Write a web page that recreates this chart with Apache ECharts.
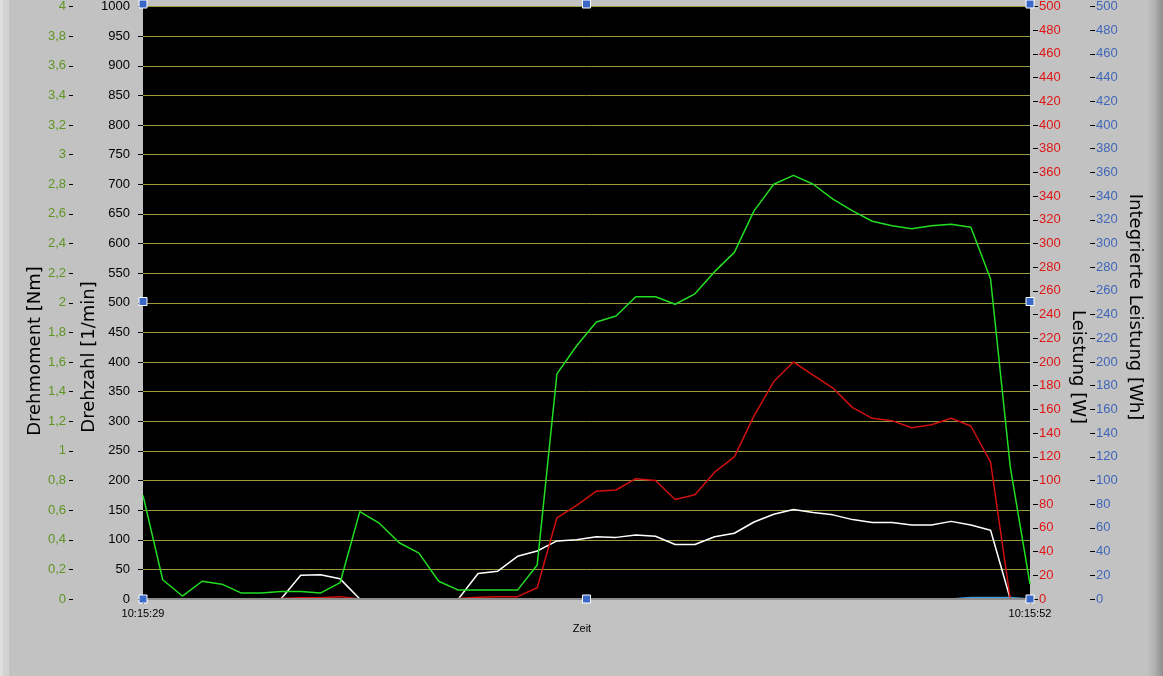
<!DOCTYPE html>
<html>
<head>
<meta charset="utf-8">
<script src="https://cdn.jsdelivr.net/npm/echarts@6/dist/echarts.min.js"></script>
<style>
html,body{margin:0;padding:0;background:#c2c2c2;}
#chart{width:1163px;height:676px;}
</style>
</head>
<body>
<div id="chart"></div>
<script>
// ---- data (46 samples, 10:15:29 .. 10:15:52) ----
const xTickLabels = ['10:15:29', '10:15:52'];
// Drehmoment [Nm] (green)
const drehmoment = [0.70,0.13,0.02,0.12,0.10,0.04,0.04,0.05,0.05,0.04,0.11,0.59,0.51,0.38,0.31,0.12,0.06,0.06,0.06,0.06,0.23,1.52,1.71,1.87,1.91,2.04,2.04,1.99,2.06,2.21,2.34,2.62,2.80,2.86,2.80,2.70,2.62,2.55,2.52,2.50,2.52,2.53,2.51,2.16,0.89,0.10];
// Drehzahl [1/min] (white)
const drehzahl = [0,0,0,0,0,0,0,0,40,41,34,0,0,0,0,0,0,43,47,72,81,98,100,105,104,108,106,92,92,105,111,130,143,151,146,142,134,129,129,125,125,131,125,116,0,0];
// Leistung [W] (red)
const leistung = [0,0,0,0,0,0,0,0.5,1,1,2,0,0,0,0,0,0.5,1.5,2,2,9.5,68.5,79,91,92,101.5,100,84,88,107,120,154.5,183.5,200,189,178,161.5,152.5,150.5,144.5,147,152.5,146,115.5,0,0];
// Integrierte Leistung [Wh] (blue)
const integriert = [0,0,0,0,0,0,0,0,0,0,0,0,0,0,0,0,0,0,0,0,0,0,0,0,0,0,0,0,0,0,0,0,0,0,0,0,0,0,0,0,0,0,1.2,1.3,1.3,0];

const lastIdx = drehmoment.length - 1;
const pairs = arr => arr.map((v, i) => [i, v]);

const G = {left: 143, top: 4, right: 133, bottom: 77};
const W = 1163, H = 676;
const px0 = G.left, px1 = W - G.right, py0 = G.top, py1 = H - G.bottom;

const chart = echarts.init(document.getElementById('chart'), null, {renderer: 'canvas'});

const lblFont = {fontFamily: 'Liberation Sans, Arial, sans-serif', fontSize: 13};
const comma = v => String(Math.round(v * 10) / 10).replace('.', ',');
const plain = v => String(Math.round(v));

function handle(x, y) {
  return {type: 'rect', shape: {x: x - 4, y: y - 4, width: 8, height: 8},
    style: {fill: '#3a68c8', stroke: '#ffffff', lineWidth: 1}, z: 100};
}
function title(text, x, y, rot) {
  return {type: 'text', x: x, y: y, rotation: rot, z: 50,
    style: {text: text, fill: '#000', font: '18px "DejaVu Sans", sans-serif',
      align: 'center', verticalAlign: 'middle'}};
}

const option = {
  backgroundColor: '#c2c2c2',
  animation: false,
  grid: {left: G.left, top: G.top, right: G.right, bottom: G.bottom,
    show: true, backgroundColor: '#000000', borderWidth: 0},
  xAxis: {
    type: 'value', min: 0, max: lastIdx, interval: lastIdx, z: 5,
    axisLine: {show: true, lineStyle: {color: '#8c8c8c', width: 2}},
    axisTick: {show: true, length: 5, lineStyle: {color: '#000'}},
    splitLine: {show: false},
    axisLabel: {margin: 9, color: '#000', fontFamily: 'Liberation Sans, Arial, sans-serif', fontSize: 11,
      formatter: v => v === 0 ? xTickLabels[0] : (v === lastIdx ? xTickLabels[1] : '')}
  },
  yAxis: [
    { // Drehzahl 0..1000
      type: 'value', position: 'left', offset: 6, min: 0, max: 1000, interval: 50,
      axisLine: {show: false},
      axisTick: {show: true, length: 5, lineStyle: {color: '#000'}},
      axisLabel: Object.assign({margin: 7, color: '#000', formatter: plain}, lblFont),
      splitLine: {show: true, lineStyle: {color: '#9a9a3e', width: 1}}
    },
    { // Drehmoment 0..4
      type: 'value', position: 'left', offset: 70, min: 0, max: 4, interval: 0.2,
      axisLine: {show: false},
      axisTick: {show: true, length: 4, lineStyle: {color: '#000'}},
      axisLabel: Object.assign({margin: 7, color: '#5f9422', formatter: comma}, lblFont),
      splitLine: {show: false}
    },
    { // Leistung 0..500
      type: 'value', position: 'right', offset: 3, min: 0, max: 500, interval: 20,
      axisLine: {show: false},
      axisTick: {show: true, length: 5, lineStyle: {color: '#000'}},
      axisLabel: Object.assign({margin: 6, color: '#e01414', formatter: plain}, lblFont),
      splitLine: {show: false}
    },
    { // Integrierte Leistung 0..500
      type: 'value', position: 'right', offset: 60, min: 0, max: 500, interval: 20,
      axisLine: {show: false},
      axisTick: {show: true, length: 5, lineStyle: {color: '#000'}},
      axisLabel: Object.assign({margin: 6, color: '#4066b8', formatter: plain}, lblFont),
      splitLine: {show: false}
    }
  ],
  series: [
    {name: 'Integrierte Leistung', type: 'line', yAxisIndex: 3, data: pairs(integriert),
      showSymbol: false, lineStyle: {color: '#3c9be0', width: 1.5}, itemStyle: {color: '#3c9be0'}},
    {name: 'Drehzahl', type: 'line', yAxisIndex: 0, data: pairs(drehzahl),
      showSymbol: false, lineStyle: {color: '#ffffff', width: 1.5}, itemStyle: {color: '#ffffff'}},
    {name: 'Leistung', type: 'line', yAxisIndex: 2, data: pairs(leistung),
      showSymbol: false, lineStyle: {color: '#d01010', width: 1.5}, itemStyle: {color: '#d01010'}},
    {name: 'Drehmoment', type: 'line', yAxisIndex: 1, data: pairs(drehmoment),
      showSymbol: false, lineStyle: {color: '#22dd22', width: 1.5}, itemStyle: {color: '#22dd22'}}
  ],
  graphic: [
    {type: 'rect', shape: {x: 0, y: 0, width: 9, height: H}, style: {fill: '#d2d2d2'}, z: 1},
    {type: 'rect', shape: {x: 0, y: 0, width: 3, height: H}, style: {fill: '#dedede'}, z: 1},
    {type: 'rect', shape: {x: 1148, y: 0, width: 15, height: H}, z: 1,
      style: {fill: new echarts.graphic.LinearGradient(0, 0, 1, 0, [
        {offset: 0, color: '#c0c0c0'}, {offset: 0.4, color: '#b2b2b2'}, {offset: 1, color: '#8e8e8e'}])}},
    title('Drehmoment [Nm]', 35.5, 351, Math.PI / 2),
    title('Drehzahl [1/min]', 89.5, 357, Math.PI / 2),
    title('Leistung [W]', 1078, 367, -Math.PI / 2),
    title('Integrierte Leistung [Wh]', 1135, 307, -Math.PI / 2),
    {type: 'text', x: 582, y: 629, z: 50,
      style: {text: 'Zeit', fill: '#000', font: '11px "Liberation Sans", Arial, sans-serif',
        align: 'center', verticalAlign: 'middle'}},
    handle(px0, py0), handle((px0 + px1) / 2, py0), handle(px1, py0),
    handle(px0, (py0 + py1) / 2), handle(px1, (py0 + py1) / 2),
    handle(px0, py1), handle((px0 + px1) / 2, py1), handle(px1, py1)
  ]
};
chart.setOption(option);
</script>
</body>
</html>
